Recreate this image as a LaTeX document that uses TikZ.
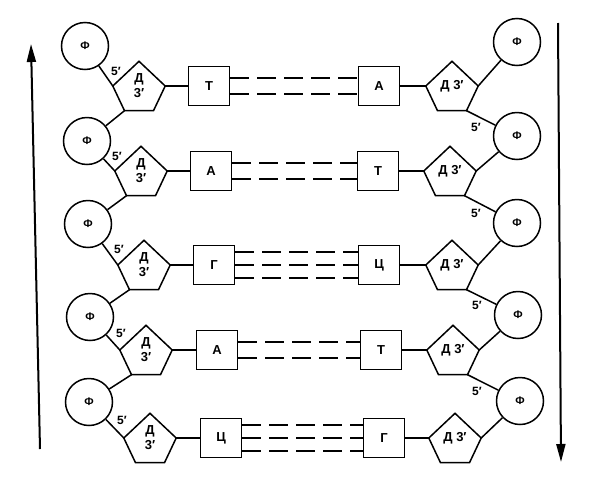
\documentclass[tikz,border=0pt]{standalone}
\usepackage{fontspec}
\setmainfont{Liberation Sans}
\usetikzlibrary{arrows.meta}
\tikzset{
  every node/.style={font=\bfseries},
  phos/.style={circle,draw,line width=1.5pt,minimum size=47pt,inner sep=0pt,font=\bfseries\fontsize{11}{13}\selectfont},
  sugar/.style={minimum width=52pt,minimum height=49pt,inner sep=0pt,align=center,font=\bfseries\fontsize{13}{15}\selectfont},
  sugarline/.style={draw,line width=1.5pt,line join=miter},
  base/.style={draw,line width=1.5pt,minimum width=41pt,minimum height=39pt,inner sep=0pt,font=\bfseries\fontsize{13}{15}\selectfont},
  bond/.style={line width=1.5pt},
  hbond/.style={line width=1.5pt,dash pattern=on 19pt off 8pt},
  prime/.style={font=\bfseries\fontsize{12}{14}\selectfont,inner sep=0pt},
  strand/.style={line width=2pt,-{Triangle[length=18pt,width=9pt]}}
}
\begin{document}
\begin{tikzpicture}[x=1pt,y=-1pt]
\useasboundingbox (0,0) rectangle (603,488);
% ---------- left strand ----------
\node[phos] (FL1) at (85,46) {Ф};
\node[phos] (FL2) at (87,141) {Ф};
\node[phos] (FL3) at (88,224) {Ф};
\node[phos] (FL4) at (90,317) {Ф};
\node[phos] (FL5) at (89,402) {Ф};
\node[sugar] (PL1) at (139,86) {Д\\3′};
\node[sugar] (PL2) at (141,171) {Д\\3′};
\node[sugar] (PL3) at (144,265) {Д\\3′};
\node[sugar] (PL4) at (146,350) {Д\\3′};
\node[sugar] (PL5) at (150,438) {Д\\3′};
\node[base] (BL1) at (209,86) {Т};
\node[base] (BL2) at (211,171) {А};
\node[base] (BL3) at (214,265) {Г};
\node[base] (BL4) at (217,350) {А};
\node[base] (BL5) at (221,438) {Ц};
% ---------- right strand ----------
\node[phos] (FR1) at (517,42) {Ф};
\node[phos] (FR2) at (517,136) {Ф};
\node[phos] (FR3) at (517,223) {Ф};
\node[phos] (FR4) at (518,315) {Ф};
\node[phos] (FR5) at (520,401) {Ф};
\node[sugar] (PR1) at (452,86) {Д 3′};
\node[sugar] (PR2) at (450,171) {Д 3′};
\node[sugar] (PR3) at (452,265) {Д 3′};
\node[sugar] (PR4) at (453,350) {Д 3′};
\node[sugar] (PR5) at (455,438) {Д 3′};
\node[base] (BR1) at (379,86) {А};
\node[base] (BR2) at (378,171) {Т};
\node[base] (BR3) at (379,265) {Ц};
\node[base] (BR4) at (381,350) {Т};
\node[base] (BR5) at (384,438) {Г};
% pentagon outlines
\foreach \n in {PL1,PL2,PL3,PL4,PL5,PR1,PR2,PR3,PR4,PR5}
  \draw[sugarline] (\n.north) -- (\n.east) -- ([xshift=14.5pt]\n.south)
     -- ([xshift=-14.5pt]\n.south) -- (\n.west) -- cycle;
% left backbone
\foreach \i in {1,...,5} {
  \draw[bond] (FL\i) -- (PL\i.west);
  \draw[bond] (PL\i.east) -- (BL\i.west);
}
\foreach \i/\j in {1/2,2/3,3/4,4/5}
  \draw[bond] ([xshift=-14.5pt]PL\i.south) -- (FL\j);
% right backbone
\foreach \i in {1,...,5} {
  \draw[bond] (PR\i.east) -- (FR\i);
  \draw[bond] (BR\i.east) -- (PR\i.west);
}
\foreach \i/\j in {1/2,2/3,3/4,4/5}
  \draw[bond] ([xshift=14.5pt]PR\i.south) -- (FR\j);
% 5' labels
\node[prime] (tL1) at (116,71) {5′};
\node[prime] (tL2) at (117,156) {5′};
\node[prime] (tL3) at (119,249) {5′};
\node[prime] (tL4) at (121,333) {5′};
\node[prime] (tL5) at (122,420) {5′};
\node[prime] (tR1) at (476,127) {5′};
\node[prime] (tR2) at (476,213) {5′};
\node[prime] (tR3) at (477,305) {5′};
\node[prime] (tR4) at (477,391) {5′};
% hydrogen bonds
\foreach \i in {1,2,4} {
  \draw[hbond] ([yshift=8pt]BL\i.east) -- ([yshift=8pt]BR\i.west);
  \draw[hbond] ([yshift=-8pt]BL\i.east) -- ([yshift=-8pt]BR\i.west);
}
\foreach \i in {3,5} {
  \draw[hbond] ([yshift=13pt]BL\i.east) -- ([yshift=13pt]BR\i.west);
  \draw[hbond] (BL\i.east) -- (BR\i.west);
  \draw[hbond] ([yshift=-13pt]BL\i.east) -- ([yshift=-13pt]BR\i.west);
}
% strand direction arrows
\coordinate (LAb) at (40,449);
\coordinate (LAt) at (31,44);
\coordinate (RAt) at (558,23);
\coordinate (RAb) at (561,462);
\draw[strand] (LAb) -- (LAt);
\draw[strand] (RAt) -- (RAb);
\end{tikzpicture}
\end{document}
